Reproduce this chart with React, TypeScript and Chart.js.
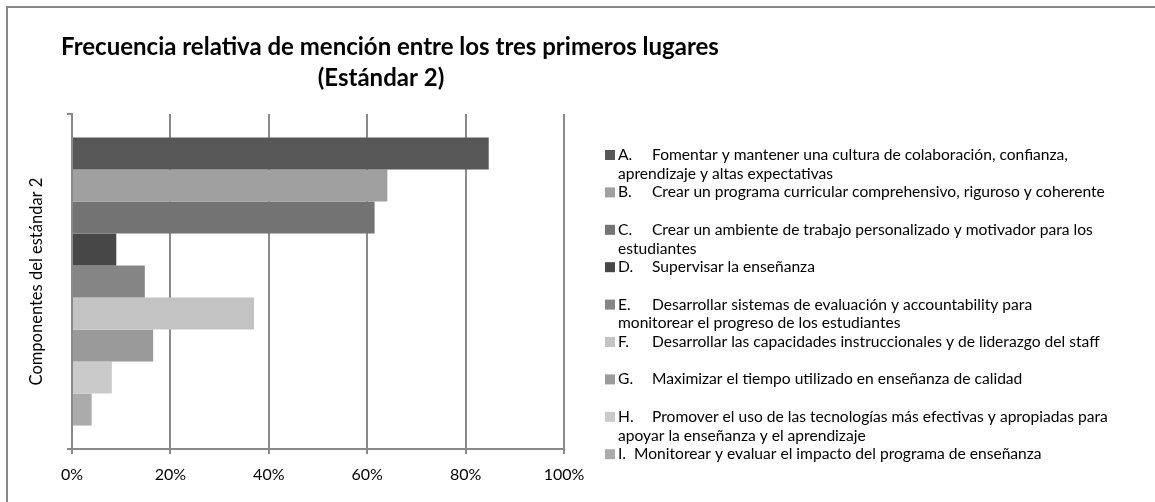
import React, { useEffect, useRef } from 'react';
import { Chart, registerables } from 'chart.js';

Chart.register(...registerables);

// ---- data ----
const categoryLabels: string[] = [''];
const componentLabels: string[][] = [
  ['A.\tFomentar y mantener una cultura de colaboración, confianza,', 'aprendizaje y altas expectativas'],
  ['B.\tCrear un programa curricular comprehensivo, riguroso y coherente'],
  ['C.\tCrear un ambiente de trabajo personalizado y motivador para los', 'estudiantes'],
  ['D.\tSupervisar la enseñanza'],
  ['E.\tDesarrollar sistemas de evaluación y accountability para', 'monitorear el progreso de los estudiantes'],
  ['F.\tDesarrollar las capacidades instruccionales y de liderazgo del staff'],
  ['G.\tMaximizar el tiempo utilizado en enseñanza de calidad'],
  ['H.\tPromover el uso de las tecnologías más efectivas y apropiadas para', 'apoyar la enseñanza y el aprendizaje'],
  ['I.  Monitorear y evaluar el impacto del programa de enseñanza'],
];
const frequencies: number[] = [84.7, 64.1, 61.5, 9.0, 14.8, 37.0, 16.5, 8.1, 4.0];
const barColors: string[] = ['#575757', '#a0a0a0', '#737373', '#474747', '#858585', '#c3c3c3', '#9a9a9a', '#cacaca', '#ababab'];
const titleLines: string[] = ['Frecuencia relativa de mención entre los tres primeros lugares', '(Estándar 2)'];
const yAxisTitle = 'Componentes del estándar 2';
const xMin = 0;
const xMax = 100;
const xStep = 20;

const FONT = 'Lato, "Liberation Sans", sans-serif';
const GRID = '#8a8a8a';

const framePlugin = {
  id: 'frameAndTitle',
  beforeDraw(chart: any) {
    const ctx = chart.ctx;
    ctx.save();
    ctx.fillStyle = '#ffffff';
    ctx.fillRect(0, 0, chart.width, chart.height);
    ctx.strokeStyle = '#878787';
    ctx.lineWidth = 2;
    ctx.strokeRect(7, 7, 1400, 800);
    ctx.restore();
  },
  afterDraw(chart: any) {
    const ctx = chart.ctx;
    ctx.save();
    ctx.fillStyle = '#000';
    ctx.textAlign = 'center';
    ctx.textBaseline = 'middle';
    ctx.font = `bold 24px ${FONT}`;
    ctx.fillText(titleLines[0], 390, 47);
    ctx.fillText(titleLines[1], 381, 78);
    // legend
    ctx.textAlign = 'left';
    ctx.font = `15.6px ${FONT}`;
    const x0 = 605;
    const y0 = 155;
    const itemH = 37.4;
    const lineH = 18.7;
    chart.data.datasets.forEach((ds: any, i: number) => {
      const y = y0 + i * itemH;
      ctx.fillStyle = ds.backgroundColor;
      ctx.fillRect(x0, y - 5, 10, 10);
      ctx.fillStyle = '#000';
      componentLabels[i].forEach((ln, j) => {
        const ly = y + j * lineH;
        const parts = ln.split('\t');
        if (parts.length > 1) {
          ctx.fillText(parts[0], x0 + 13, ly);
          ctx.fillText(parts[1], x0 + 47, ly);
        } else {
          ctx.fillText(ln, x0 + 13, ly);
        }
      });
    });
    ctx.restore();
  },
};

export default function App() {
  const ref = useRef<HTMLCanvasElement | null>(null);
  useEffect(() => {
    if (!ref.current) return;
    const chart = new Chart(ref.current, {
      type: 'bar',
      data: {
        labels: categoryLabels,
        datasets: componentLabels.map((lines, i) => ({
          label: lines.join(' ').replace('\t', ' '),
          data: [frequencies[i]],
          backgroundColor: barColors[i],
          borderWidth: 0,
          categoryPercentage: 0.86,
          barPercentage: 1,
        })),
      },
      options: {
        indexAxis: 'y',
        animation: false,
        responsive: false,
        devicePixelRatio: 1,
        layout: { padding: { left: 0, top: 114, right: 591, bottom: 0 } },
        plugins: {
          legend: { display: false },
          title: { display: false },
          tooltip: { enabled: false },
        },
        scales: {
          x: {
            min: xMin,
            max: xMax,
            afterFit: (s: any) => { s.height = 53; },
            ticks: {
              stepSize: xStep,
              callback: (v: any) => `${v}%`,
              color: '#000',
              font: { family: FONT, size: 16 },
              padding: 11,
              maxRotation: 0,
            },
            grid: { color: GRID, lineWidth: 2, tickLength: 5, drawTicks: true },
            border: { display: true, color: GRID, width: 2 },
          },
          y: {
            afterFit: (s: any) => { s.width = 72; },
            ticks: { display: false },
            grid: { display: true, drawOnChartArea: false, drawTicks: true, tickLength: 5, color: GRID, lineWidth: 2, offset: true },
            border: { display: true, color: GRID, width: 2 },
            title: {
              display: true,
              text: yAxisTitle,
              color: '#000',
              font: { family: FONT, size: 16.5 },
              padding: { top: 27, bottom: 0 },
            },
          },
        },
      },
      plugins: [framePlugin],
    } as any);
    return () => chart.destroy();
  }, []);
  return (
    <div style={{ position: 'fixed', left: 0, top: 0, width: 1155, height: 502, background: '#fff' }}>
      <canvas ref={ref} width={1155} height={502} style={{ width: 1155, height: 502, display: 'block' }} />
    </div>
  );
}
